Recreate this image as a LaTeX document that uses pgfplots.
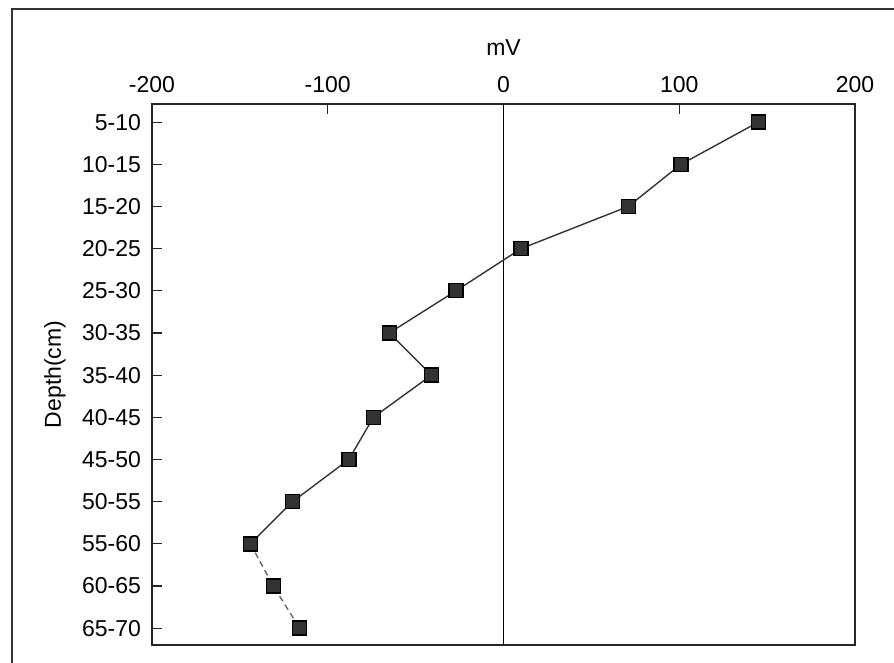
\documentclass[border=0pt]{standalone}
\usepackage{pgfplots}
\pgfplotsset{compat=1.18}
\usepackage{fontspec}
\setmainfont{Liberation Sans}
\begin{document}
\begin{tikzpicture}[font=\fontsize{11.5}{13}\selectfont]
\useasboundingbox (0,0) rectangle (447pt,331.5pt);
\draw[line width=0.9pt, black!80] (6pt,-1pt) -- (6pt,327pt) -- (448pt,327pt);
\begin{axis}[
  at={(76pt,9pt)}, anchor=south west,
  scale only axis,
  width=351.5pt, height=270.5pt,
  xmin=-200, xmax=200,
  ymin=-0.43, ymax=12.4,
  y dir=reverse,
  axis line style={line width=0.8pt, black!85},
  xtick={-200,-100,0,100,200},
  xticklabel pos=upper,
  tick align=inside,
  major tick length=5pt,
  tick style={black!85, line width=0.6pt},
  xtick pos=upper, ytick pos=lower,
  ytick={0,1,2,3,4,5,6,7,8,9,10,11,12},
  yticklabels={5-10,10-15,15-20,20-25,25-30,30-35,35-40,40-45,45-50,50-55,55-60,60-65,65-70},
  xticklabel shift=2pt,
  yticklabel shift=2pt,
  /pgf/number format/assume math mode=true,
  xlabel={mV},
  ylabel={Depth(cm)},
  x label style={at={(axis description cs:0.5,1)}, anchor=center, yshift=28pt},
  y label style={at={(axis description cs:-0.138,0.5)}, anchor=center},
  clip=false,
]
\addplot[black, line width=0.5pt] coordinates {(0,-0.43) (0,12.4)};
\addplot[black!80, line width=0.7pt, mark=square*, mark size=3.5pt,
  mark options={solid, fill=black!80, draw=black}] coordinates {
(145,0) (101,1) (71,2) (10,3) (-27,4) (-65,5) (-41,6) (-74,7) (-88,8) (-120,9) (-144,10)
};
\addplot[black!60, line width=0.7pt, densely dashed, mark=square*, mark size=3.5pt,
  mark options={solid, fill=black!80, draw=black}] coordinates {
(-144,10) (-131,11) (-116,12)
};
\end{axis}
\end{tikzpicture}
\end{document}
